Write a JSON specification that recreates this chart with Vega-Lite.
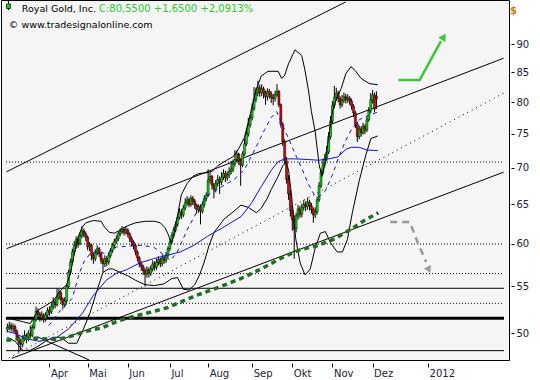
{
"$schema":"https://vega.github.io/schema/vega-lite/v6.json",
"width":508,"height":360,
"autosize":{"type":"none"},
"padding":{"left":1,"top":0,"right":31,"bottom":20},
"background":"white",
"config":{"view":{"fill":"#f5f5f5","stroke":"#000000","strokeWidth":1},
"axis":{"labelFont":"DejaVu Sans","labelFontSize":10,"labelColor":"#202040","tickColor":"#000000","domain":false,"grid":false}},
"datasets":{
"px":[
{"t":-22,"o":50.4,"h":51.0,"l":50.1,"c":50.6},{"t":-21,"o":50.6,"h":51.2,"l":50.3,"c":50.8},{"t":-20,"o":50.8,"h":51.1,"l":50.2,"c":50.5},{"t":-19,"o":50.5,"h":51.0,"l":50.1,"c":50.7},{"t":-18,"o":50.7,"h":50.9,"l":49.9,"c":50.2},{"t":-17,"o":50.2,"h":50.4,"l":49.3,"c":49.6},{"t":-16,"o":49.6,"h":49.8,"l":48.1,"c":49.0},{"t":-15,"o":49.0,"h":49.4,"l":48.3,"c":48.9},{"t":-14,"o":48.9,"h":49.8,"l":48.6,"c":49.5},{"t":-13,"o":49.5,"h":50.3,"l":49.2,"c":49.8},{"t":-12,"o":49.8,"h":50.0,"l":49.0,"c":49.4},{"t":-11,"o":49.4,"h":50.3,"l":49.2,"c":50.0},{"t":-10,"o":49.9,"h":50.8,"l":49.5,"c":49.8},{"t":-9,"o":49.8,"h":50.9,"l":49.6,"c":50.6},{"t":-8,"o":50.6,"h":51.7,"l":50.4,"c":51.4},{"t":-7,"o":51.4,"h":52.8,"l":51.2,"c":52.3},{"t":-6,"o":52.3,"h":52.6,"l":51.5,"c":52.0},{"t":-5,"o":52.0,"h":52.2,"l":51.2,"c":51.6},{"t":-4,"o":51.6,"h":52.3,"l":51.3,"c":51.9},{"t":-3,"o":51.9,"h":52.1,"l":51.1,"c":51.5},{"t":-2,"o":51.5,"h":52.2,"l":51.2,"c":51.9},{"t":-1,"o":51.9,"h":52.7,"l":51.7,"c":52.4},
{"t":0,"o":52.4,"h":52.8,"l":51.8,"c":52.2},{"t":1,"o":52.2,"h":53.1,"l":52.0,"c":52.8},{"t":2,"o":52.8,"h":53.8,"l":52.5,"c":53.3},{"t":3,"o":53.3,"h":53.6,"l":52.6,"c":53.0},{"t":4,"o":53.0,"h":54.8,"l":52.8,"c":53.8},{"t":5,"o":53.8,"h":54.7,"l":53.5,"c":54.3},{"t":6,"o":54.3,"h":54.5,"l":53.2,"c":53.6},{"t":7,"o":53.6,"h":53.8,"l":52.5,"c":53.0},{"t":8,"o":53.0,"h":53.8,"l":52.7,"c":53.4},{"t":9,"o":53.4,"h":55.3,"l":53.2,"c":55.0},{"t":10,"o":55.0,"h":56.9,"l":54.8,"c":56.6},{"t":11,"o":56.6,"h":58.2,"l":56.3,"c":57.8},{"t":12,"o":57.8,"h":59.4,"l":57.5,"c":59.0},{"t":13,"o":59.0,"h":60.3,"l":58.6,"c":59.8},{"t":14,"o":59.8,"h":60.9,"l":59.4,"c":60.5},{"t":15,"o":60.5,"h":60.8,"l":59.5,"c":60.0},{"t":16,"o":60.0,"h":61.4,"l":59.8,"c":61.0},{"t":17,"o":61.0,"h":62.2,"l":60.7,"c":61.6},{"t":18,"o":61.6,"h":61.9,"l":60.8,"c":61.2},{"t":19,"o":61.2,"h":61.5,"l":60.3,"c":60.8},
{"t":20,"o":60.8,"h":61.0,"l":59.2,"c":59.6},{"t":21,"o":59.6,"h":60.2,"l":59.1,"c":59.8},{"t":22,"o":59.8,"h":60.0,"l":58.0,"c":58.6},{"t":23,"o":58.6,"h":58.9,"l":57.6,"c":58.2},{"t":24,"o":58.2,"h":59.3,"l":57.9,"c":58.9},{"t":25,"o":58.9,"h":59.8,"l":58.6,"c":59.4},{"t":26,"o":59.4,"h":59.6,"l":58.4,"c":58.8},{"t":27,"o":58.8,"h":59.0,"l":57.6,"c":58.0},{"t":28,"o":58.0,"h":58.3,"l":56.6,"c":57.6},{"t":29,"o":57.6,"h":58.6,"l":57.2,"c":58.2},{"t":30,"o":58.2,"h":58.5,"l":57.3,"c":57.8},{"t":31,"o":57.8,"h":58.9,"l":57.5,"c":58.6},{"t":32,"o":58.6,"h":59.5,"l":58.3,"c":59.2},{"t":33,"o":59.2,"h":60.1,"l":58.9,"c":59.8},{"t":34,"o":59.8,"h":60.6,"l":59.4,"c":60.3},{"t":35,"o":60.3,"h":61.0,"l":60.0,"c":60.6},{"t":36,"o":60.6,"h":61.5,"l":60.3,"c":61.2},{"t":37,"o":61.2,"h":61.9,"l":60.9,"c":61.5},{"t":38,"o":61.5,"h":62.2,"l":61.2,"c":61.8},{"t":39,"o":61.8,"h":62.0,"l":61.0,"c":61.4},
{"t":40,"o":61.4,"h":62.1,"l":61.1,"c":61.7},{"t":41,"o":61.7,"h":61.9,"l":60.8,"c":61.2},{"t":42,"o":61.2,"h":61.4,"l":60.2,"c":60.6},{"t":43,"o":60.6,"h":60.9,"l":59.7,"c":60.2},{"t":44,"o":60.2,"h":60.4,"l":59.3,"c":59.8},{"t":45,"o":59.8,"h":60.0,"l":58.6,"c":59.0},{"t":46,"o":59.0,"h":59.2,"l":57.9,"c":58.3},{"t":47,"o":58.3,"h":58.5,"l":57.2,"c":57.6},{"t":48,"o":57.6,"h":57.9,"l":56.8,"c":57.3},{"t":49,"o":57.3,"h":57.5,"l":56.3,"c":56.8},{"t":50,"o":56.8,"h":57.1,"l":55.0,"c":56.4},{"t":51,"o":56.4,"h":57.3,"l":56.0,"c":56.9},{"t":52,"o":56.9,"h":57.2,"l":56.0,"c":56.5},{"t":53,"o":56.5,"h":57.4,"l":56.2,"c":57.0},{"t":54,"o":57.0,"h":58.0,"l":56.7,"c":57.6},{"t":55,"o":57.6,"h":57.9,"l":56.8,"c":57.2},{"t":56,"o":57.2,"h":58.2,"l":56.9,"c":57.8},{"t":57,"o":57.8,"h":58.5,"l":57.4,"c":58.1},{"t":58,"o":58.1,"h":58.3,"l":57.2,"c":57.6},{"t":59,"o":57.6,"h":58.7,"l":57.3,"c":58.3},
{"t":60,"o":58.3,"h":58.6,"l":57.6,"c":58.0},{"t":61,"o":58.0,"h":59.0,"l":57.7,"c":58.6},{"t":62,"o":58.6,"h":59.7,"l":58.3,"c":59.4},{"t":63,"o":59.4,"h":60.6,"l":59.1,"c":60.2},{"t":64,"o":60.2,"h":61.4,"l":59.9,"c":61.0},{"t":65,"o":61.0,"h":62.1,"l":60.7,"c":61.7},{"t":66,"o":61.7,"h":62.8,"l":61.4,"c":62.4},{"t":67,"o":62.4,"h":63.7,"l":62.1,"c":63.3},{"t":68,"o":63.3,"h":64.5,"l":63.0,"c":64.0},{"t":69,"o":64.0,"h":64.4,"l":63.1,"c":63.6},{"t":70,"o":63.6,"h":64.9,"l":63.3,"c":64.5},{"t":71,"o":64.5,"h":65.8,"l":64.2,"c":65.2},{"t":72,"o":65.2,"h":66.1,"l":64.8,"c":65.6},{"t":73,"o":65.6,"h":65.9,"l":64.6,"c":65.0},{"t":74,"o":65.0,"h":66.2,"l":64.7,"c":65.8},{"t":75,"o":65.8,"h":66.1,"l":64.9,"c":65.4},{"t":76,"o":65.4,"h":65.7,"l":64.4,"c":64.9},{"t":77,"o":64.9,"h":65.1,"l":63.8,"c":64.3},{"t":78,"o":64.3,"h":65.0,"l":63.9,"c":64.7},{"t":79,"o":64.7,"h":65.0,"l":62.4,"c":64.1},
{"t":80,"o":64.1,"h":65.4,"l":63.8,"c":65.0},{"t":81,"o":65.0,"h":66.2,"l":64.6,"c":65.8},{"t":82,"o":65.8,"h":66.6,"l":65.4,"c":66.2},{"t":83,"o":66.2,"h":69.8,"l":66.0,"c":68.3},{"t":84,"o":68.3,"h":69.4,"l":67.8,"c":68.8},{"t":85,"o":68.8,"h":69.0,"l":67.0,"c":67.6},{"t":86,"o":67.6,"h":67.9,"l":65.8,"c":67.0},{"t":87,"o":67.0,"h":68.3,"l":66.6,"c":67.8},{"t":88,"o":67.8,"h":69.0,"l":67.4,"c":68.4},{"t":89,"o":68.4,"h":68.8,"l":66.4,"c":68.0},{"t":90,"o":68.0,"h":69.4,"l":67.6,"c":68.7},{"t":91,"o":68.7,"h":69.8,"l":68.3,"c":69.2},{"t":92,"o":69.2,"h":69.6,"l":68.0,"c":68.6},{"t":93,"o":68.6,"h":69.5,"l":68.2,"c":69.0},{"t":94,"o":69.0,"h":70.1,"l":68.6,"c":69.5},{"t":95,"o":69.5,"h":71.0,"l":69.1,"c":69.8},{"t":96,"o":69.8,"h":71.2,"l":69.4,"c":70.6},{"t":97,"o":70.6,"h":72.6,"l":70.2,"c":71.2},{"t":98,"o":71.2,"h":72.5,"l":70.8,"c":72.0},{"t":99,"o":72.0,"h":72.2,"l":70.4,"c":71.0},
{"t":100,"o":71.0,"h":71.3,"l":67.5,"c":70.4},{"t":101,"o":70.4,"h":72.4,"l":70.1,"c":72.0},{"t":102,"o":72.0,"h":74.3,"l":71.7,"c":73.5},{"t":103,"o":73.5,"h":75.6,"l":73.2,"c":75.0},{"t":104,"o":75.0,"h":77.5,"l":74.6,"c":76.4},{"t":105,"o":76.4,"h":78.0,"l":76.0,"c":77.5},{"t":106,"o":77.5,"h":79.8,"l":77.1,"c":79.0},{"t":107,"o":79.0,"h":82.5,"l":78.6,"c":80.5},{"t":108,"o":80.5,"h":82.4,"l":80.0,"c":81.5},{"t":109,"o":81.5,"h":83.6,"l":81.0,"c":82.4},{"t":110,"o":82.4,"h":82.9,"l":80.9,"c":81.6},{"t":111,"o":81.6,"h":83.0,"l":81.0,"c":82.2},{"t":112,"o":82.2,"h":82.6,"l":80.6,"c":81.5},{"t":113,"o":81.5,"h":81.9,"l":79.6,"c":80.9},{"t":114,"o":80.9,"h":82.3,"l":80.3,"c":81.8},{"t":115,"o":81.8,"h":82.2,"l":80.6,"c":81.3},{"t":116,"o":81.3,"h":81.8,"l":79.9,"c":80.8},{"t":117,"o":80.8,"h":81.4,"l":79.5,"c":80.6},{"t":118,"o":80.6,"h":81.9,"l":80.1,"c":81.2},{"t":119,"o":81.2,"h":83.0,"l":80.9,"c":81.8},
{"t":120,"o":81.8,"h":82.0,"l":79.2,"c":79.6},{"t":121,"o":79.6,"h":79.8,"l":76.0,"c":76.5},{"t":122,"o":76.5,"h":76.8,"l":73.2,"c":73.8},{"t":123,"o":73.8,"h":74.2,"l":70.5,"c":71.0},{"t":124,"o":71.0,"h":71.6,"l":67.8,"c":68.4},{"t":125,"o":68.4,"h":69.0,"l":65.6,"c":66.4},{"t":126,"o":66.4,"h":67.0,"l":63.4,"c":64.2},{"t":127,"o":64.2,"h":64.8,"l":61.6,"c":63.0},{"t":128,"o":63.0,"h":63.6,"l":58.2,"c":61.8},{"t":129,"o":61.8,"h":63.9,"l":61.4,"c":63.5},{"t":130,"o":63.5,"h":64.9,"l":63.0,"c":64.4},{"t":131,"o":64.4,"h":64.8,"l":63.2,"c":63.7},{"t":132,"o":63.7,"h":65.1,"l":63.3,"c":64.6},{"t":133,"o":64.6,"h":65.6,"l":64.2,"c":65.0},{"t":134,"o":65.0,"h":65.4,"l":64.1,"c":64.7},{"t":135,"o":64.7,"h":65.9,"l":64.3,"c":65.3},{"t":136,"o":65.3,"h":65.6,"l":64.2,"c":64.8},{"t":137,"o":64.8,"h":65.2,"l":63.8,"c":64.3},{"t":138,"o":64.3,"h":64.6,"l":62.6,"c":63.6},{"t":139,"o":63.6,"h":64.6,"l":63.2,"c":64.0},
{"t":140,"o":64.0,"h":66.0,"l":63.7,"c":65.6},{"t":141,"o":65.6,"h":68.0,"l":65.3,"c":67.5},{"t":142,"o":67.5,"h":69.9,"l":67.2,"c":69.4},{"t":143,"o":69.4,"h":71.3,"l":69.0,"c":70.6},{"t":144,"o":70.6,"h":72.0,"l":70.1,"c":71.4},{"t":145,"o":71.4,"h":73.2,"l":71.0,"c":72.3},{"t":146,"o":72.3,"h":75.3,"l":72.0,"c":74.6},{"t":147,"o":74.6,"h":77.8,"l":74.2,"c":77.0},{"t":148,"o":77.0,"h":80.2,"l":76.6,"c":79.5},{"t":149,"o":79.5,"h":82.7,"l":79.0,"c":80.8},{"t":150,"o":80.8,"h":82.4,"l":80.2,"c":81.5},{"t":151,"o":81.5,"h":81.9,"l":80.0,"c":80.6},{"t":152,"o":80.6,"h":81.0,"l":79.0,"c":79.6},{"t":153,"o":79.6,"h":81.2,"l":79.2,"c":80.3},{"t":154,"o":80.3,"h":81.6,"l":79.9,"c":80.9},{"t":155,"o":80.9,"h":81.4,"l":79.8,"c":80.4},{"t":156,"o":80.4,"h":81.3,"l":79.9,"c":80.7},{"t":157,"o":80.7,"h":81.0,"l":79.6,"c":80.2},{"t":158,"o":80.2,"h":80.6,"l":78.8,"c":79.4},{"t":159,"o":79.4,"h":79.7,"l":77.6,"c":78.3},
{"t":160,"o":78.3,"h":78.6,"l":75.9,"c":76.5},{"t":161,"o":76.5,"h":76.9,"l":73.8,"c":74.6},{"t":162,"o":74.6,"h":76.3,"l":74.2,"c":75.8},{"t":163,"o":75.8,"h":76.2,"l":74.6,"c":75.2},{"t":164,"o":75.2,"h":76.7,"l":74.9,"c":76.2},{"t":165,"o":76.2,"h":76.5,"l":75.0,"c":75.6},{"t":166,"o":75.6,"h":77.7,"l":75.3,"c":77.2},{"t":167,"o":77.2,"h":79.2,"l":76.9,"c":78.6},{"t":168,"o":78.6,"h":81.5,"l":78.2,"c":80.4},{"t":169,"o":80.4,"h":82.0,"l":79.8,"c":81.2},{"t":170,"o":81.2,"h":81.6,"l":78.4,"c":78.9},{"t":171,"o":81.0,"h":81.8,"l":78.9,"c":80.55}
],
"bb":[
{"s":"u","t":-22,"p":51.6},{"s":"u","t":-18,"p":51.4},{"s":"u","t":-14,"p":51.2},{"s":"u","t":-10,"p":51.0},{"s":"u","t":-6,"p":52.4},{"s":"u","t":-2,"p":52.9},{"s":"u","t":2,"p":53.4},{"s":"u","t":6,"p":54.6},{"s":"u","t":9,"p":55.2},{"s":"u","t":11,"p":56.5},{"s":"u","t":13,"p":58.8},{"s":"u","t":15,"p":60.8},{"s":"u","t":17,"p":62.0},{"s":"u","t":19,"p":62.6},{"s":"u","t":23,"p":62.9},{"s":"u","t":27,"p":62.8},{"s":"u","t":29,"p":62.0},{"s":"u","t":31.4,"p":61.4},{"s":"u","t":34,"p":61.3},{"s":"u","t":36.4,"p":61.6},{"s":"u","t":39,"p":62.0},{"s":"u","t":41.6,"p":62.3},{"s":"u","t":45,"p":62.6},{"s":"u","t":50,"p":62.8},{"s":"u","t":55,"p":62.8},{"s":"u","t":58,"p":62.6},{"s":"u","t":60.4,"p":62.0},{"s":"u","t":62,"p":61.2},{"s":"u","t":63.8,"p":60.1},{"s":"u","t":65,"p":61.0},{"s":"u","t":67,"p":63.5},{"s":"u","t":69,"p":66.3},{"s":"u","t":72,"p":67.8},{"s":"u","t":75,"p":68.8},{"s":"u","t":78,"p":69.2},{"s":"u","t":82,"p":69.3},{"s":"u","t":85,"p":69.5},{"s":"u","t":88,"p":70.3},{"s":"u","t":92,"p":71.0},{"s":"u","t":96,"p":71.6},{"s":"u","t":99,"p":72.8},{"s":"u","t":102,"p":74.5},{"s":"u","t":105,"p":78.0},{"s":"u","t":108,"p":82.0},{"s":"u","t":110.8,"p":84.4},{"s":"u","t":114.3,"p":85.2},{"s":"u","t":119.6,"p":85.2},{"s":"u","t":121.4,"p":84.0},{"s":"u","t":123,"p":84.5},{"s":"u","t":125,"p":86.5},{"s":"u","t":128.4,"p":89.0},{"s":"u","t":131.9,"p":88.0},{"s":"u","t":133.5,"p":85.6},{"s":"u","t":135.4,"p":82.1},{"s":"u","t":137,"p":78.5},{"s":"u","t":139,"p":75.3},{"s":"u","t":141,"p":70.5},{"s":"u","t":142.5,"p":68.8},{"s":"u","t":144,"p":70.5},{"s":"u","t":146,"p":74.5},{"s":"u","t":148,"p":78.5},{"s":"u","t":150,"p":80.5},{"s":"u","t":152.6,"p":82.3},{"s":"u","t":155,"p":84.8},{"s":"u","t":157.7,"p":86.0},{"s":"u","t":160,"p":85.3},{"s":"u","t":162.9,"p":84.0},{"s":"u","t":167.2,"p":83.1},{"s":"u","t":171.7,"p":82.9},
{"s":"l","t":-22,"p":49.6},{"s":"l","t":-18,"p":49.2},{"s":"l","t":-14,"p":48.3},{"s":"l","t":-10,"p":48.3},{"s":"l","t":-6,"p":48.7},{"s":"l","t":-2,"p":49.2},{"s":"l","t":2,"p":49.6},{"s":"l","t":6,"p":49.6},{"s":"l","t":10,"p":49.0},{"s":"l","t":14.3,"p":49.0},{"s":"l","t":17.5,"p":50.3},{"s":"l","t":21.2,"p":52.1},{"s":"l","t":24.5,"p":54.3},{"s":"l","t":28,"p":56.6},{"s":"l","t":31,"p":57.0},{"s":"l","t":33,"p":57.0},{"s":"l","t":37,"p":56.6},{"s":"l","t":41,"p":56.2},{"s":"l","t":45,"p":55.7},{"s":"l","t":50,"p":55.2},{"s":"l","t":55,"p":55.1},{"s":"l","t":60,"p":55.3},{"s":"l","t":64,"p":55.9},{"s":"l","t":67,"p":56.0},{"s":"l","t":70,"p":54.7},{"s":"l","t":73,"p":54.6},{"s":"l","t":76,"p":55.2},{"s":"l","t":78.5,"p":56.3},{"s":"l","t":80.8,"p":57.7},{"s":"l","t":83.5,"p":59.8},{"s":"l","t":86.1,"p":61.4},{"s":"l","t":91.4,"p":63.1},{"s":"l","t":96,"p":64.0},{"s":"l","t":100.2,"p":64.9},{"s":"l","t":104,"p":64.6},{"s":"l","t":108.2,"p":63.9},{"s":"l","t":110.8,"p":64.5},{"s":"l","t":113.5,"p":65.6},{"s":"l","t":116,"p":67.0},{"s":"l","t":119.6,"p":68.8},{"s":"l","t":122,"p":70.3},{"s":"l","t":123.5,"p":70.8},{"s":"l","t":125,"p":69.8},{"s":"l","t":126.5,"p":66.5},{"s":"l","t":127.6,"p":63.5},{"s":"l","t":128.8,"p":60.6},{"s":"l","t":131.1,"p":57.7},{"s":"l","t":133.7,"p":56.3},{"s":"l","t":136.4,"p":57.0},{"s":"l","t":139,"p":59.5},{"s":"l","t":141.7,"p":61.3},{"s":"l","t":144.3,"p":61.5},{"s":"l","t":147,"p":60.1},{"s":"l","t":150.5,"p":59.0},{"s":"l","t":153.2,"p":59.0},{"s":"l","t":155.8,"p":60.5},{"s":"l","t":158.4,"p":63.9},{"s":"l","t":162,"p":68.2},{"s":"l","t":165.5,"p":71.9},{"s":"l","t":168.1,"p":74.3},{"s":"l","t":171.7,"p":74.7}
],
"ma":[{"t":-22.4,"p":50.2},{"t":-18,"p":50.0},{"t":-12.7,"p":49.5},{"t":-5.6,"p":49.2},{"t":3.2,"p":49.5},{"t":10.3,"p":50.5},{"t":17.3,"p":52.1},{"t":22.6,"p":53.9},{"t":29.7,"p":55.7},{"t":35,"p":56.5},{"t":40.3,"p":56.9},{"t":43.8,"p":57.3},{"t":47.3,"p":57.7},{"t":54.4,"p":58.2},{"t":61.4,"p":58.6},{"t":68.5,"p":59.0},{"t":75.5,"p":59.8},{"t":82.6,"p":60.9},{"t":91.4,"p":62.1},{"t":100.2,"p":63.4},{"t":105.5,"p":65.1},{"t":110.8,"p":67.4},{"t":116.1,"p":69.7},{"t":119.6,"p":70.9},{"t":123.2,"p":71.3},{"t":128.4,"p":71.3},{"t":135.5,"p":71.2},{"t":140.8,"p":71.1},{"t":146.1,"p":71.3},{"t":151,"p":71.6},{"t":155,"p":72.7},{"t":158,"p":73.0},{"t":162,"p":73.0},{"t":166,"p":72.6},{"t":171.7,"p":72.5}],
"mad":[{"t":-0.3,"p":50.8},{"t":5.8,"p":52.4},{"t":12,"p":53.7},{"t":15.5,"p":56.4},{"t":18.2,"p":57.9},{"t":21.7,"p":58.9},{"t":26.1,"p":59.1},{"t":29.7,"p":58.7},{"t":35,"p":59.6},{"t":47.3,"p":59.8},{"t":54.4,"p":59.6},{"t":59.6,"p":58.7},{"t":63.2,"p":58.0},{"t":66.7,"p":58.9},{"t":72,"p":61.7},{"t":77.3,"p":64.1},{"t":82.6,"p":66.2},{"t":89.6,"p":67.3},{"t":96.7,"p":68.4},{"t":102,"p":69.8},{"t":107.3,"p":72.6},{"t":112.6,"p":75.7},{"t":116.1,"p":77.6},{"t":118.8,"p":78.5},{"t":121.4,"p":76.7},{"t":124.9,"p":74.4},{"t":128.4,"p":72.1},{"t":132,"p":69.9},{"t":135.5,"p":67.7},{"t":138.2,"p":66.4},{"t":140.8,"p":66.0},{"t":144.3,"p":66.8},{"t":147.8,"p":68.9},{"t":151.4,"p":71.6},{"t":154.9,"p":74.0},{"t":158.4,"p":75.9},{"t":162,"p":77.2},{"t":166,"p":77.8},{"t":171.4,"p":78.4}],
"gd":[{"t":-22.5,"p":49.3},{"t":-12,"p":49.5},{"t":-6,"p":49.5},{"t":0,"p":49.4},{"t":5,"p":49.4},{"t":11,"p":49.7},{"t":19,"p":50.2},{"t":28,"p":50.6},{"t":36,"p":51.3},{"t":45,"p":51.8},{"t":53,"p":52.2},{"t":62,"p":52.7},{"t":75.5,"p":53.9},{"t":89.6,"p":55.0},{"t":100.2,"p":55.9},{"t":110.8,"p":57.0},{"t":121.4,"p":58.3},{"t":130.2,"p":59.2},{"t":140.6,"p":59.8},{"t":149.2,"p":60.6},{"t":157.7,"p":61.8},{"t":164.6,"p":62.9},{"t":172,"p":63.9}],
"hdot":[{"s":"a","t":-22.7,"p":70.84},{"s":"a","t":237.7,"p":70.84},{"s":"b","t":-22.7,"p":59.96},{"s":"b","t":237.7,"p":59.96},{"s":"c","t":-22.7,"p":56.46},{"s":"c","t":237.7,"p":56.46},{"s":"d","t":-22.7,"p":53.15},{"s":"d","t":237.7,"p":53.15}],
"hsol":[{"s":"a","t":-22.7,"p":54.8},{"s":"a","t":237.7,"p":54.8},{"s":"b","t":-22.7,"p":48.27},{"s":"b","t":237.7,"p":48.27}],
"hthick":[{"t":-22.7,"p":51.55},{"t":237.7,"p":51.55}],
"chan":[{"s":"A","t":-22.4,"p":69.45},{"s":"A","t":154.9,"p":98.1},{"s":"B","t":-22.4,"p":59.4},{"s":"B","t":237.5,"p":87.5},{"s":"C","t":-19.7,"p":47.52},{"s":"C","t":237.5,"p":69.4},{"s":"E","t":-6.35,"p":49.65},{"s":"E","t":20.8,"p":47.36}],
"chand":[{"t":-21.2,"p":47.55},{"t":237.5,"p":81.5}],
"ga":[{"t":182.5,"p":83.7},{"t":193.6,"p":83.7},{"t":204.7,"p":90.6}],
"gy":[{"t":178.2,"p":62.7},{"t":188.5,"p":62.7},{"t":190.2,"p":61.6},{"t":192.8,"p":60.0},{"t":195.3,"p":58.7},{"t":197,"p":57.8}]
},
"encoding":{
"x":{"field":"t","type":"quantitative","title":null,"scale":{"domain":[-22.7,237.7],"nice":false,"zero":false},
"axis":{"values":[0,20,41,63,83,106,127,148,169,198],"labelExpr":"['Apr','Mai','Jun','Jul','Aug','Sep','Okt','Nov','Dez','2012'][indexof([0,20,41,63,83,106,127,148,169,198],datum.value)]","orient":"bottom","offset":3,"tickSize":4,"labelAlign":"left","labelBaseline":"top","labelPadding":1,"labelOffset":1,"labelFlush":false,"labelOverlap":false}},
"y":{"field":"p","type":"quantitative","title":null,"scale":{"type":"log","domain":[47.36,98.5],"nice":false},
"axis":{"values":[50,55,60,65,70,75,80,85,90],"format":"d","orient":"right","offset":2,"tickSize":3,"labelPadding":2,"labelFlush":false,"labelOverlap":false}}
},
"layer":[
{"data":{"name":"hdot"},"mark":{"type":"line","stroke":"#000000","strokeWidth":1,"strokeDash":[1,2],"clip":true},"encoding":{"detail":{"field":"s"}}},
{"data":{"name":"hsol"},"mark":{"type":"line","stroke":"#000000","strokeWidth":1,"clip":true},"encoding":{"detail":{"field":"s"}}},
{"data":{"name":"hthick"},"mark":{"type":"line","stroke":"#000000","strokeWidth":3,"clip":true},"encoding":{}},
{"data":{"name":"chan"},"mark":{"type":"line","stroke":"#000000","strokeWidth":1,"clip":true},"encoding":{"detail":{"field":"s"}}},
{"data":{"name":"chand"},"mark":{"type":"line","stroke":"#000000","strokeWidth":1,"strokeDash":[1,4],"clip":true},"encoding":{}},
{"data":{"name":"px"},"mark":{"type":"rule","stroke":"#000000","strokeWidth":1,"clip":true},
"encoding":{"y":{"field":"l","type":"quantitative","title":null,"scale":{"type":"log","domain":[47.36,98.5],"nice":false}},"y2":{"field":"h"}}},
{"data":{"name":"px"},"mark":{"type":"bar","size":2,"stroke":"#000000","strokeWidth":0.5,"clip":true},
"encoding":{"y":{"field":"o","type":"quantitative","title":null,"scale":{"type":"log","domain":[47.36,98.5],"nice":false}},"y2":{"field":"c"},
"color":{"condition":{"test":"datum.c >= datum.o","value":"#00e000"},"value":"#e00000"}}},
{"data":{"name":"bb"},"mark":{"type":"line","stroke":"#000000","strokeWidth":1,"clip":true},"encoding":{"detail":{"field":"s"}}},
{"data":{"name":"ma"},"mark":{"type":"line","stroke":"#1010e8","strokeWidth":1,"clip":true},"encoding":{}},
{"data":{"name":"mad"},"mark":{"type":"line","stroke":"#1010e8","strokeWidth":1,"strokeDash":[4,4],"clip":true},"encoding":{}},
{"data":{"name":"gd"},"mark":{"type":"line","stroke":"#1e6e1e","strokeWidth":3.5,"strokeDash":[5,4],"clip":true},"encoding":{}},
{"data":{"name":"ga"},"mark":{"type":"line","stroke":"#3cc83c","strokeWidth":2.5,"clip":true},"encoding":{}},
{"data":{"values":[{"t":206.2,"p":91.4}]},"mark":{"type":"point","shape":"triangle-up","angle":31,"size":70,"filled":true,"color":"#3cc83c","opacity":1},"encoding":{}},
{"data":{"name":"gy"},"mark":{"type":"line","stroke":"#999999","strokeWidth":2.5,"strokeDash":[7,5],"clip":true},"encoding":{}},
{"data":{"values":[{"t":198.4,"p":56.9}]},"mark":{"type":"point","shape":"triangle-down","angle":335,"size":60,"filled":true,"color":"#999999","opacity":1},"encoding":{}},
{"data":{"values":[{"t":-21.4,"o":96.8,"c":97.7,"l":96.5,"h":98.3}]},"mark":{"type":"rule","stroke":"#000000","strokeWidth":1},
"encoding":{"y":{"field":"l","type":"quantitative","title":null,"scale":{"type":"log","domain":[47.36,98.5],"nice":false}},"y2":{"field":"h"}}},
{"data":{"values":[{"t":-21.4,"o":96.8,"c":97.7,"l":96.5,"h":98.3}]},"mark":{"type":"bar","size":4,"fill":"#00e000","stroke":"#000000","strokeWidth":0.7},
"encoding":{"y":{"field":"o","type":"quantitative","title":null,"scale":{"type":"log","domain":[47.36,98.5],"nice":false}},"y2":{"field":"c"}}},
{"data":{"values":[{"t":-14.4,"p":96.7,"s":"Royal Gold, Inc."}]},"mark":{"type":"text","align":"left","baseline":"middle","font":"DejaVu Sans","fontSize":9.5,"color":"#000000"},"encoding":{"text":{"field":"s"}}},
{"data":{"values":[{"t":25.9,"p":96.7,"s":"C:80,5500 +1,6500 +2,0913%"}]},"mark":{"type":"text","align":"left","baseline":"middle","font":"DejaVu Sans","fontSize":10,"color":"#2ecc2e"},"encoding":{"text":{"field":"s"}}},
{"data":{"values":[{"t":-21.2,"p":93.6,"s":"© www.tradesignalonline.com"}]},"mark":{"type":"text","align":"left","baseline":"middle","font":"DejaVu Sans","fontSize":9.5,"color":"#000000"},"encoding":{"text":{"field":"s"}}},
{"data":{"values":[{"t":240.8,"p":96.3,"s":"$"}]},"mark":{"type":"text","align":"left","baseline":"middle","font":"DejaVu Sans","fontSize":10,"fontWeight":"bold","color":"#c08020","clip":false},"encoding":{"text":{"field":"s"}}}
]
}
